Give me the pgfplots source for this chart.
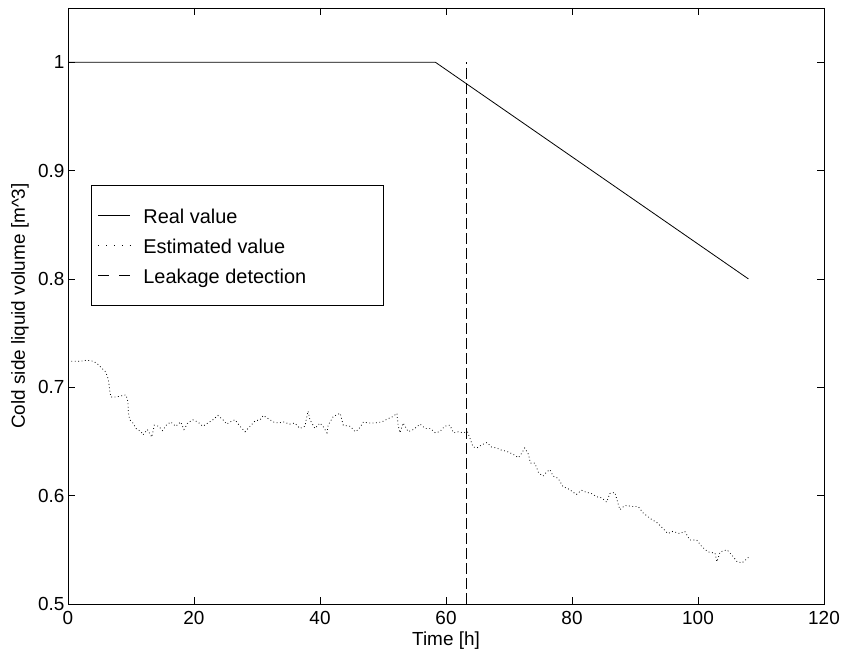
\documentclass[border=0pt]{standalone}
\usepackage{fontspec}
\setmainfont{Liberation Sans}
\usepackage{pgfplots}
\pgfplotsset{compat=1.18}
\begin{document}
\begin{tikzpicture}
\path[use as bounding box] (0,0) rectangle (844bp,656bp);
\begin{axis}[
  at={(68bp,52bp)}, anchor=south west,
  scale only axis, width=756bp, height=596bp,
  xmin=0, xmax=120, ymin=0.5, ymax=1.05,
  xtick={0,20,...,120}, ytick={0.5,0.6,0.7,0.8,0.9,1},
  xtick pos=both, ytick pos=both, tick align=inside,
  major tick length=7bp,
  tick style={black, line width=0.5bp},
  axis line style={black, line width=0.8bp},
  /pgf/number format/assume math mode=true,
  tick label style={font=\fontsize{19}{22}\selectfont},
  xticklabel style={yshift=-4bp},
  label style={font=\fontsize{19}{22}\selectfont},
  xlabel={Time [h]},
  ylabel={Cold side liquid volume [m\textasciicircum 3]},
  xlabel style={at={(axis description cs:0.5,-0.062)}, anchor=center},
  ylabel style={at={(axis description cs:-0.0635,0.5)}, anchor=center},
  legend style={at={(axis cs:3.65,0.887)}, anchor=north west, draw=black, line width=0.8bp,
    fill=white, inner xsep=0pt, inner ysep=17bp, row sep=4bp,
    font=\fontsize{20}{24}\selectfont,
    nodes={inner sep=0pt, text height=21bp, text depth=5bp}},
  legend cell align=left,
  legend image code/.code={\path[draw=none] (0bp,0bp) -- (52bp,0bp); \draw[#1, line width=0.8bp] (7bp,0bp) -- (39bp,0bp);},
]
\addplot[black, line width=0.8bp] coordinates {(0,1) (58.3,1) (108,0.8)};
\addlegendentry{\makebox[240bp][l]{Real value}}
\addplot[black, line width=0.8bp, dash pattern=on 0.8bp off 2.6bp,
  legend image code/.code={\path[draw=none] (0bp,0bp) -- (52bp,0bp); \draw[black, line width=0.8bp, dash pattern=on 0.8bp off 7bp] (7bp,0bp) -- (40bp,0bp);}] coordinates {
(0,0.724) (1,0.724) (2,0.724) (3,0.725) (4,0.724) (4.6,0.722) (5.3,0.718) (6.0,0.714)
(6.3,0.709) (6.5,0.704) (6.6,0.698) (6.8,0.691) (7.6,0.691) (8.4,0.692) (9.2,0.693)
(9.5,0.687) (9.6,0.676) (9.8,0.670) (10.3,0.667) (10.8,0.662) (11.6,0.659) (11.9,0.656)
(12.6,0.661) (13.3,0.654) (13.7,0.665) (14.4,0.664) (15.0,0.660) (15.6,0.665) (16.3,0.668)
(17.1,0.664) (17.9,0.668) (18.4,0.661) (19.0,0.667) (19.8,0.670) (20.6,0.668) (21.4,0.664)
(22.2,0.667) (23.0,0.670) (23.8,0.674) (24.6,0.670) (25.2,0.666) (25.7,0.668) (26.5,0.670)
(27.3,0.664) (28.1,0.659) (28.9,0.664) (29.7,0.669) (30.5,0.670) (31.0,0.674) (31.8,0.671)
(32.6,0.668) (33.4,0.667) (34.2,0.668) (35.2,0.666) (36.0,0.667) (36.8,0.662) (37.6,0.664)
(38.1,0.678) (38.4,0.670) (39.2,0.662) (40.0,0.667) (40.6,0.663) (41.1,0.658) (41.3,0.665)
(42.1,0.673) (43.2,0.676) (43.7,0.665) (44.8,0.664) (45.6,0.659) (46.1,0.661) (46.9,0.668)
(47.7,0.667) (48.7,0.667) (49.8,0.668) (50.8,0.671) (51.6,0.673) (52.2,0.676) (52.4,0.665)
(52.7,0.658) (53.2,0.667) (54.0,0.659) (54.8,0.661) (55.9,0.666) (56.7,0.662) (57.5,0.662)
(58.3,0.658) (59.0,0.659) (59.8,0.664) (60.6,0.665) (61.2,0.658) (62.0,0.659) (62.7,0.658)
(63.4,0.659) (63.8,0.653) (64.3,0.645) (64.9,0.644) (65.7,0.647) (66.5,0.649) (67.2,0.645)
(68.0,0.644) (68.8,0.642) (69.6,0.641) (70.7,0.638) (71.5,0.635) (72.0,0.639) (72.5,0.644)
(73.1,0.638) (73.4,0.630) (74.1,0.630) (74.7,0.621) (75.4,0.618) (76.0,0.622) (76.5,0.624)
(77.0,0.618) (77.8,0.616) (78.6,0.608) (79.2,0.607) (80.0,0.604) (80.7,0.601) (81.5,0.605)
(82.3,0.603) (83.1,0.602) (83.9,0.599) (84.7,0.598) (85.5,0.594) (86.0,0.602) (86.8,0.603)
(87.6,0.587) (88.4,0.591) (89.5,0.590) (90.5,0.590) (91.3,0.584) (92.4,0.579) (93.5,0.575)
(94.4,0.570) (95.2,0.565) (96.0,0.567) (97.1,0.565) (97.9,0.567) (98.7,0.559) (99.8,0.559)
(100.6,0.553) (101.6,0.548) (102.7,0.547) (103.0,0.539) (103.5,0.548) (104.6,0.550)
(105.4,0.545) (106.2,0.539) (107.0,0.538) (107.8,0.542) (108.0,0.543)
};
\addlegendentry{\makebox[240bp][l]{Estimated value}}
\addplot[black, line width=0.8bp, dash pattern=on 11bp off 4bp,
  legend image code/.code={\path[draw=none] (0bp,0bp) -- (52bp,0bp); \draw[black, line width=0.8bp] (7bp,0bp) -- (18bp,0bp) (28bp,0bp) -- (39bp,0bp);}] coordinates {(63.3,0.5) (63.3,1.0)};
\addlegendentry{\makebox[240bp][l]{Leakage detection}}
\end{axis}
\end{tikzpicture}
\end{document}
